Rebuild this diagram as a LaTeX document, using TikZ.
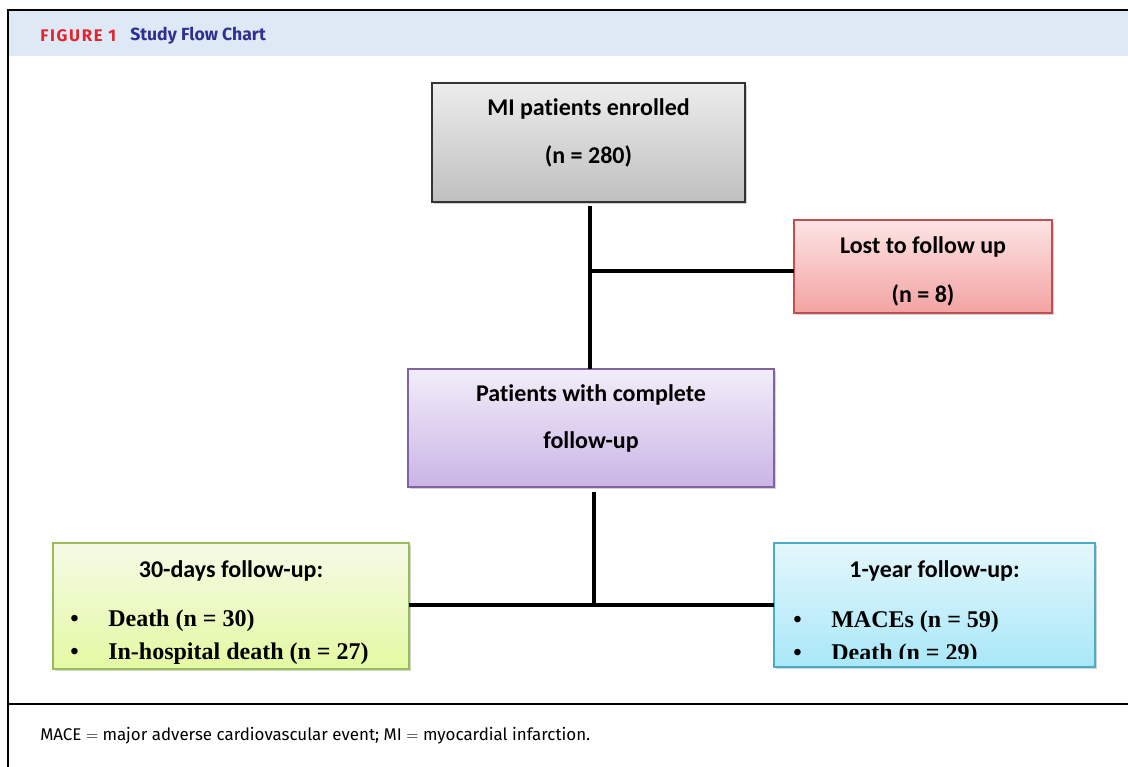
\documentclass[tikz,border=0pt]{standalone}
\usepackage{fontspec}
\setmainfont[Ligatures=NoCommon]{Carlito}
\newfontfamily\serifb{Liberation Serif}
\newfontfamily\capf{Fira Sans}
\newfontfamily\figf[LetterSpace=10]{Fira Sans}
\usetikzlibrary{shadows}
\definecolor{hdr}{HTML}{DEE9F5}
\definecolor{figred}{HTML}{E1242F}
\definecolor{figblue}{HTML}{2E3192}
\definecolor{grayT}{HTML}{EDEDED}
\definecolor{grayB}{HTML}{BFBFBF}
\definecolor{pinkT}{HTML}{FDE4E4}
\definecolor{pinkB}{HTML}{F3A3A3}
\definecolor{pinkD}{HTML}{C0504D}
\definecolor{purT}{HTML}{F2EDF9}
\definecolor{purB}{HTML}{CAB5E6}
\definecolor{purD}{HTML}{8064A2}
\definecolor{grnT}{HTML}{F4FAE6}
\definecolor{grnB}{HTML}{E4F9A2}
\definecolor{grnD}{HTML}{9BBB59}
\definecolor{bluT}{HTML}{E4F7FC}
\definecolor{bluB}{HTML}{A9E7F8}
\definecolor{bluD}{HTML}{4BACC6}
\tikzset{
  flowbox/.style={rectangle, inner sep=0pt, outer sep=0pt, line width=1.1pt,
    drop shadow={shadow xshift=1.5pt, shadow yshift=-1.5pt, opacity=0.35}},
  boxtxt/.style={anchor=base, inner sep=0pt, font=\bfseries\fontsize{18}{21}\selectfont},
  bultxt/.style={anchor=base west, inner sep=0pt, font=\serifb\bfseries\fontsize{18}{21}\selectfont},
  link/.style={line width=2.4pt, black}
}
\begin{document}
\begin{tikzpicture}[x=0.75pt, y=-0.75pt]
\useasboundingbox (0,0) rectangle (1128,767);
% header and frame
\fill[hdr] (9,11) rectangle (1128,56);
\draw[line width=1.5pt] (1128,10) -- (8,10) -- (8,767);
\draw[line width=1.2pt] (8,704) -- (1128,704);
\node[anchor=base west, inner sep=0pt, text=figred, font=\figf\bfseries\fontsize{12.6}{14}\selectfont] (figlab) at (40,42) {FIGURE 1};
\node[anchor=base west, inner sep=0pt, text=figblue, font=\capf\bfseries\fontsize{13.2}{15}\selectfont] (figtitle) at (130,41) {Study Flow Chart};
\node[anchor=base west, inner sep=0pt, font=\capf\fontsize{12.7}{15}\selectfont] (foot) at (40,740) {MACE $=$ major adverse cardiovascular event; MI $=$ myocardial infarction.};

% boxes
\node[flowbox, draw=black!80, top color=grayT, bottom color=grayB, minimum width=234.75pt, minimum height=89.25pt] (mi) at (588.5,142.5) {};
\node[flowbox, draw=pinkD, top color=pinkT, bottom color=pinkB, minimum width=193.5pt, minimum height=69.75pt] (lost) at (923,266.5) {};
\node[flowbox, draw=purD, top color=purT, bottom color=purB, minimum width=274.5pt, minimum height=88.5pt] (pat) at (591,428) {};
\node[flowbox, draw=grnD, top color=grnT, bottom color=grnB, minimum width=267pt, minimum height=94.5pt] (g30) at (231,606) {};
\node[flowbox, draw=bluD, top color=bluT, bottom color=bluB, minimum width=240.75pt, minimum height=93pt] (y1) at (934.5,605) {};

% box texts
\node[boxtxt] (mi1) at (588.5,116) {MI patients enrolled};
\node[boxtxt] (mi2) at (588.5,163) {(n = 280)};
\node[boxtxt] (lost1) at (923,253) {Lost to follow up};
\node[boxtxt] (lost2) at (923,302) {(n = 8)};
\node[boxtxt] (pat1) at (591,401) {Patients with complete};
\node[boxtxt] (pat2) at (591,448) {follow-up};
\node[boxtxt] (g30t) at (231,577) {30-days follow-up:};
\node[boxtxt] (y1t) at (934.5,577) {1-year follow-up:};

\begin{scope}
\clip (54,544) rectangle (408,663);
\node[bultxt] (gb1) at (70,626) {•};
\node[bultxt] (g30a) at (108,626) {Death (n = 30)};
\node[bultxt] (gb2) at (70,659) {•};
\node[bultxt] (g30b) at (108,659) {In-hospital death (n = 27)};
\end{scope}
\begin{scope}
\clip (775,544) rectangle (1094,658);
\node[bultxt] (yb1) at (793,627) {•};
\node[bultxt] (y1a) at (831,627) {MACEs (n = 59)};
\node[bultxt] (yb2) at (793,660) {•};
\node[bultxt] (y1b) at (831,660) {Death (n = 29)};
\end{scope}

% connectors
\coordinate (j1) at (590,271);
\coordinate (j2) at (594,605);
\draw[link] ([yshift=-3pt]mi.south -| j1) -- (pat.north -| j1);
\draw[link] (j1) -- (lost.west |- j1);
\draw[link] ([yshift=-4pt]pat.south -| j2) -- (j2);
\draw[link] (g30.east |- j2) -- (y1.west |- j2);
\end{tikzpicture}
\end{document}
